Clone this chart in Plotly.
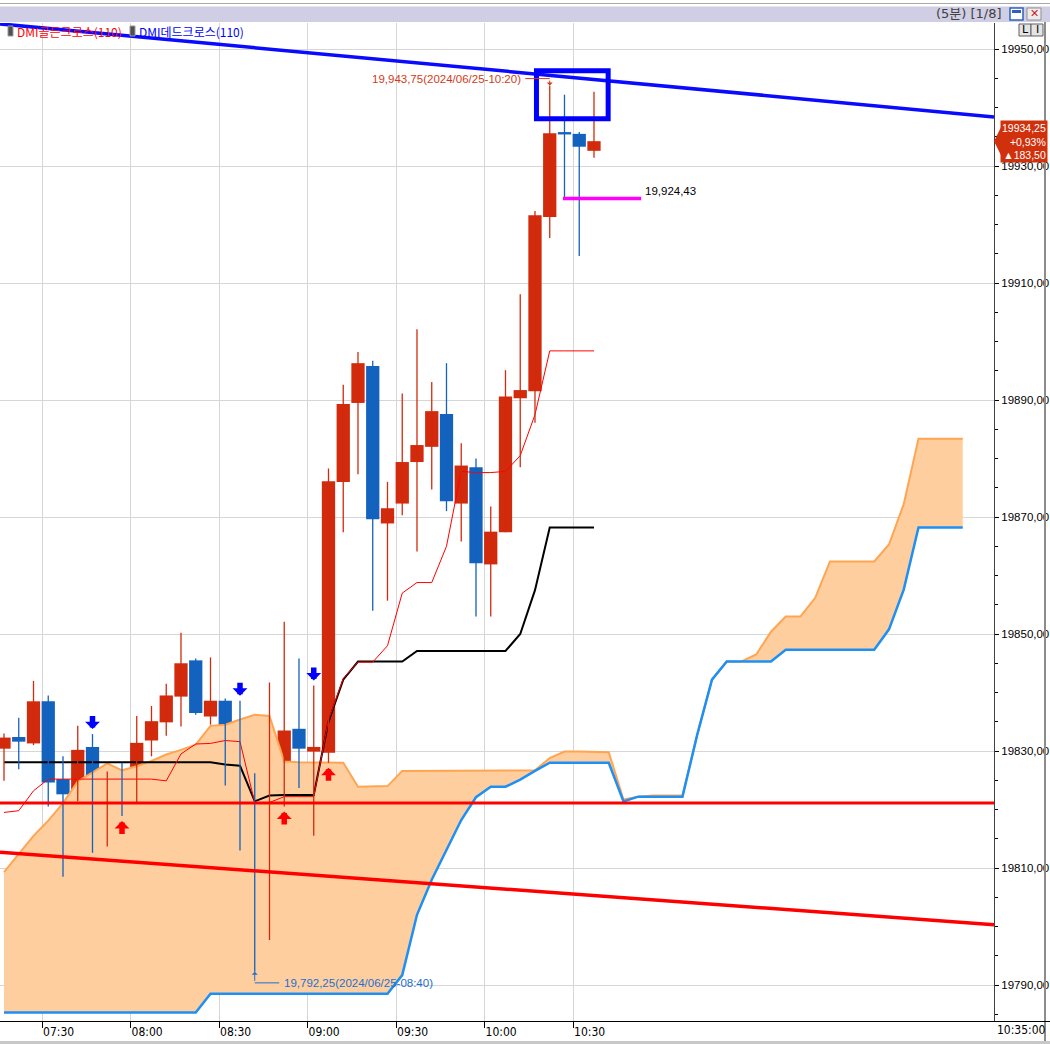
import plotly.graph_objects as go

# ---------------- data ----------------
times = ["07:15", "07:20", "07:25", "07:30", "07:35", "07:40", "07:45", "07:50", "07:55",
         "08:00", "08:05", "08:10", "08:15", "08:20", "08:25", "08:30", "08:35", "08:40",
         "08:45", "08:50", "08:55", "09:00", "09:05", "09:10", "09:15", "09:20", "09:25",
         "09:30", "09:35", "09:40", "09:45", "09:50", "09:55", "10:00", "10:05", "10:10",
         "10:15", "10:20", "10:25", "10:30", "10:35"]
opens = [19830.4, 19832.4, 19831.3, 19838.5, 19825.2, 19821.8, 19830.7, 19814.0, 19821.7, 19821.2,
         19831.8, 19834.9, 19839.3, 19845.5, 19835.9, 19838.6, 19828.6, 19815.5, 19806.9, 19821.2,
         19833.8, 19829.9, 19829.7, 19876.0, 19889.5, 19895.8, 19868.9, 19872.3, 19879.4, 19882.0,
         19887.6, 19872.3, 19878.5, 19861.9, 19867.4, 19890.3, 19891.5, 19921.3, 19935.8, 19935.5,
         19932.6]
highs = [19833.0, 19835.7, 19842.0, 19839.5, 19829.1, 19834.3, 19832.9, 19826.5, 19828.0, 19836.0,
         19837.7, 19841.5, 19850.2, 19845.8, 19846.0, 19839.0, 19838.6, 19826.2, 19841.7, 19852.1,
         19845.8, 19841.2, 19878.3, 19892.6, 19898.2, 19896.7, 19876.0, 19891.1, 19902.1, 19893.1,
         19896.3, 19882.6, 19880.0, 19871.8, 19895.1, 19908.1, 19922.3, 19943.75, 19942.2, 19935.8,
         19942.7]
lows = [19824.9, 19826.9, 19831.0, 19820.5, 19808.5, 19821.4, 19812.6, 19813.7, 19818.9, 19821.0,
        19829.1, 19832.6, 19834.2, 19836.2, 19834.5, 19824.1, 19813.0, 19792.25, 19797.7, 19820.5,
        19823.7, 19815.5, 19828.0, 19867.4, 19877.3, 19854.0, 19855.7, 19870.3, 19864.1, 19874.7,
        19871.0, 19865.8, 19853.0, 19853.0, 19867.4, 19878.5, 19886.1, 19917.7, 19924.7, 19914.6,
        19931.4]
closes = [19832.3, 19831.6, 19838.5, 19824.6, 19822.6, 19830.2, 19813.6, 19821.5, 19821.3, 19831.4,
          19835.1, 19839.5, 19845.0, 19836.5, 19838.6, 19829.8, 19815.5, 19806.7, 19821.7, 19833.5,
          19830.4, 19830.7, 19876.1, 19889.3, 19896.3, 19869.6, 19871.5, 19879.4, 19882.3, 19888.1,
          19872.7, 19878.8, 19862.1, 19867.5, 19890.6, 19891.7, 19921.6, 19935.6, 19935.4, 19933.3,
          19934.25]

# Ichimoku conversion (tenkan) and base (kijun) lines
tenkan = [19819.5, 19819.8, 19823.2, 19825.2, 19825.2, 19825.2, 19825.2, 19825.2, 19825.2, 19825.2,
          19825.2, 19824.9, 19829.5, 19831.2, 19831.3, 19831.8, 19831.6, 19821.2, 19821.2, 19822.2,
          19822.2, 19822.2, 19835.3, 19842.4, 19845.2, 19845.2, 19848.0, 19857.0, 19858.8, 19858.8,
          19865.0, 19877.8, 19877.6, 19877.6, 19877.8, 19880.5, 19887.5, 19898.4, 19898.4, 19898.4,
          19898.4]
kijun = [19828.1, 19828.1, 19828.1, 19828.1, 19828.1, 19828.1, 19828.1, 19828.1, 19828.1, 19828.1,
         19828.1, 19828.1, 19828.1, 19828.1, 19828.1, 19827.7, 19827.5, 19821.4, 19822.4, 19822.5,
         19822.5, 19822.5, 19835.0, 19842.2, 19845.3, 19845.3, 19845.3, 19845.3, 19847.1, 19847.1,
         19847.1, 19847.1, 19847.1, 19847.1, 19847.1, 19850.0, 19857.5, 19868.2, 19868.2, 19868.2,
         19868.2]
# leading spans (already shifted forward, 66 positions)
span_a = [19809.3, 19812.4, 19815.5, 19818.1, 19821.1, 19824.8, 19826.4, 19827.9, 19826.7, 19827.4,
          19828.3, 19829.4, 19830.2, 19831.1, 19834.3, 19834.5, 19835.4, 19836.2, 19836.0, 19828.2,
          19828.1, 19828.1, 19828.1, 19828.0, 19823.9, 19823.9, 19824.0, 19826.6, 19826.6, 19826.6,
          19826.6, 19826.6, 19826.6, 19826.6, 19826.6, 19826.6, 19826.7, 19828.8, 19829.9, 19829.9,
          19829.9, 19829.8, 19821.7, 19822.2, 19822.4, 19822.4, 19822.4, 19832.8, 19842.2, 19845.3,
          19845.3, 19846.5, 19850.4, 19853.0, 19853.0, 19856.2, 19862.4, 19862.4, 19862.4, 19862.4,
          19865.3, 19872.2, 19883.4, 19883.4, 19883.4, 19883.4]
span_b = [19785.3, 19785.3, 19785.3, 19785.3, 19785.3, 19785.3, 19785.3, 19785.3, 19785.3, 19785.3,
          19785.3, 19785.3, 19785.3, 19785.3, 19788.5, 19788.5, 19788.5, 19788.5, 19788.5, 19788.5,
          19788.5, 19788.5, 19788.5, 19788.5, 19788.5, 19788.5, 19788.5, 19791.7, 19802.0, 19808.0,
          19813.1, 19818.2, 19822.1, 19823.9, 19823.9, 19825.1, 19826.6, 19828.0, 19828.0, 19828.0,
          19828.0, 19828.0, 19821.4, 19822.2, 19822.2, 19822.2, 19822.2, 19832.8, 19842.2, 19845.3,
          19845.3, 19845.3, 19845.3, 19847.3, 19847.3, 19847.3, 19847.3, 19847.3, 19847.3, 19847.3,
          19850.8, 19857.6, 19868.2, 19868.2, 19868.2, 19868.2]

# DMI cross signals (candle indices)
golden_cross_idx = [8, 19, 22]
dead_cross_idx = [6, 16, 21]

# user drawings
hline_level = 19821.1
red_trend_prices = [19812.7, 19800.3]
blue_trend_prices = [19954.3, 19938.4]
box_idx = [36.1, 40.96]
box_prices = [19938.1, 19946.3]
mag_level = 19924.43
mag_idx = [37.9, 43.2]
day_change = 183.50

x_tick_labels = ["07:30", "08:00", "08:30", "09:00", "09:30", "10:00", "10:30"]
y_tick_vals = [19790, 19810, 19830, 19850, 19870, 19890, 19910, 19930, 19950]

# ---------------- styling ----------------
RED = "#D22A0C"
BLUE = "#1262BE"
W, H = 1050, 1044
ML, MR, MT, MB = 0, 56, 23, 23
PW, PH = W - ML - MR, H - MT - MB
XR = [-0.271, 67.12]
YR = [19783.85, 19954.45]
NARROW = "Liberation Sans Narrow, DejaVu Sans Condensed, Liberation Sans"


def px(x):
    return (x - ML) / PW


def py(y):
    return (H - MB - y) / PH


def fmt(v):
    return f"{v:,.2f}"[:-3] + "," + f"{v:.2f}"[-2:]


n = len(times)
xs = list(range(n))
xs_span = list(range(len(span_a)))

fig = go.Figure()

# Ichimoku cloud
fig.add_trace(go.Scatter(x=xs_span, y=span_b, mode="lines", line=dict(width=0, color="#1E90FF"),
                         hoverinfo="skip"))
fig.add_trace(go.Scatter(x=xs_span, y=span_a, mode="lines", fill="tonexty", fillcolor="#FFCE9E",
                         line=dict(width=2, color="#FFA552"), hoverinfo="skip"))
fig.add_trace(go.Scatter(x=xs_span, y=span_b, mode="lines", line=dict(width=2.5, color="#1E8FF5"),
                         hoverinfo="skip"))

# Kijun and Tenkan
fig.add_trace(go.Scatter(x=xs, y=kijun, mode="lines", line=dict(width=2, color="#000000"),
                         hoverinfo="skip"))
fig.add_trace(go.Scatter(x=xs, y=tenkan, mode="lines", line=dict(width=1, color="#FF0000"),
                         hoverinfo="skip"))

# candles
for up, col in ((True, RED), (False, BLUE)):
    idx = [i for i in xs if (closes[i] >= opens[i]) == up]
    wx, wy = [], []
    for i in idx:
        wx += [i, i, None]
        wy += [lows[i], highs[i], None]
    fig.add_trace(go.Scatter(x=wx, y=wy, mode="lines", line=dict(width=1.3, color=col),
                             hoverinfo="skip"))
    fig.add_trace(go.Bar(x=idx, y=[max(abs(closes[i] - opens[i]), 0.35) for i in idx],
                         base=[min(opens[i], closes[i]) for i in idx], width=0.9,
                         marker=dict(color=col, line=dict(width=0)), hoverinfo="skip"))

# drawings
fig.add_trace(go.Scatter(x=XR, y=[hline_level, hline_level], mode="lines",
                         line=dict(width=3, color="#FF0000"), hoverinfo="skip"))
fig.add_trace(go.Scatter(x=XR, y=red_trend_prices, mode="lines",
                         line=dict(width=3.5, color="#FF0000"), hoverinfo="skip"))
fig.add_trace(go.Scatter(x=XR, y=blue_trend_prices, mode="lines",
                         line=dict(width=3.5, color="#0A0AFF"), hoverinfo="skip"))
fig.add_trace(go.Scatter(x=mag_idx, y=[mag_level, mag_level], mode="lines",
                         line=dict(width=3.5, color="#FF00FF"), hoverinfo="skip"))

shapes = []
annotations = []

shapes.append(dict(type="rect", xref="x", yref="y", x0=box_idx[0], x1=box_idx[1],
                   y0=box_prices[0], y1=box_prices[1], line=dict(color="#0000FF", width=5),
                   fillcolor="rgba(0,0,0,0)", layer="above"))

TINY = dict(size=1, color="rgba(0,0,0,0)")

# signal arrows
for i in dead_cross_idx:
    annotations.append(dict(x=i, y=highs[i], xref="x", yref="y", text=" ", font=TINY,
                            showarrow=True, ax=0, ay=-15, yshift=5, arrowhead=1, arrowwidth=5.5,
                            arrowsize=0.45, arrowcolor="#0000FF"))
for i in golden_cross_idx:
    annotations.append(dict(x=i, y=lows[i], xref="x", yref="y", text=" ", font=TINY,
                            showarrow=True, ax=0, ay=15, yshift=-5, arrowhead=1, arrowwidth=5.5,
                            arrowsize=0.45, arrowcolor="#FF0000"))

# high / low labels
ih = highs.index(max(highs))
il = lows.index(min(lows))
HRED = "#D23A18"
LBLUE = "#1C6FD0"
annotations += [
    dict(x=ih, y=highs[ih], xref="x", yref="y", showarrow=False, xanchor="right", yanchor="middle",
         xshift=-27, yshift=7, text=f"{fmt(highs[ih])}(2024/06/25-{times[ih]})",
         font=dict(family="Liberation Sans", size=11.5, color=HRED)),
    dict(x=ih, y=highs[ih], xref="x", yref="y", text=" ", font=TINY, showarrow=True, ax=-26,
         ay=0, yshift=7, arrowhead=0, arrowwidth=1, arrowcolor=HRED),
    dict(x=ih, y=highs[ih], xref="x", yref="y", text=" ", font=TINY, showarrow=True, ax=0, ay=-7,
         arrowhead=1, arrowwidth=1, arrowsize=1, arrowcolor=HRED),
    dict(x=il, y=lows[il], xref="x", yref="y", showarrow=False, xanchor="left", yanchor="middle",
         xshift=27, yshift=-11, text=f"{fmt(lows[il])}(2024/06/25-{times[il]})",
         font=dict(family="Liberation Sans", size=11.5, color=LBLUE)),
    dict(x=il, y=lows[il], xref="x", yref="y", text=" ", font=TINY, showarrow=True, ax=26, ay=0,
         yshift=-11, arrowhead=0, arrowwidth=1, arrowcolor=LBLUE),
    dict(x=il, y=lows[il], xref="x", yref="y", text=" ", font=TINY, showarrow=True, ax=0, ay=11,
         arrowhead=1, arrowwidth=1, arrowsize=1, arrowcolor=LBLUE),
    dict(x=mag_idx[1], y=mag_level, xref="x", yref="y", showarrow=False, xanchor="left",
         yanchor="middle", xshift=2, yshift=8, text=fmt(mag_level),
         font=dict(family="Liberation Sans", size=11.5, color="#000000")),
]

# current price box
last = closes[-1]
pct = day_change / (last - day_change) * 100
annotations.append(dict(
    x=1, y=last, xref="paper", yref="y", xanchor="left", yanchor="middle", xshift=6,
    showarrow=False, align="right", bgcolor="#D0300C", borderpad=1,
    text=f"{last:.2f}".replace(".", ",") + "<br>+" + f"{pct:.2f}".replace(".", ",") + "%<br>▲"
         + f"{day_change:.2f}".replace(".", ","),
    font=dict(family="Liberation Sans", size=10.5, color="#FFFFFF")))
shapes.append(dict(type="path", xref="paper", yref="y", xsizemode="pixel", ysizemode="pixel",
                   xanchor=1, yanchor=last, path="M 7,-14 L 0,0 L 7,14 Z",
                   fillcolor="#D0300C", line=dict(width=0)))

# header / frame decorations
shapes += [
    dict(type="line", xref="paper", yref="paper", x0=px(0), x1=px(W), y0=py(3.5), y1=py(3.5),
         line=dict(color="#A8A8A8", width=1)),
    dict(type="rect", xref="paper", yref="paper", x0=px(0), x1=px(W), y0=py(22), y1=py(6.5),
         fillcolor="#D0CEE4", line=dict(width=0)),
    dict(type="rect", xref="paper", yref="paper", x0=px(1010), x1=px(1023), y0=py(20), y1=py(8),
         fillcolor="#FFFFFF", line=dict(color="#2F5FC0", width=1.5)),
    dict(type="rect", xref="paper", yref="paper", x0=px(1012), x1=px(1021), y0=py(13), y1=py(10),
         fillcolor="#2F5FC0", line=dict(width=0)),
    dict(type="rect", xref="paper", yref="paper", x0=px(1027), x1=px(1041), y0=py(20), y1=py(8),
         fillcolor="#ECECEC", line=dict(color="#909090", width=1)),
    dict(type="rect", xref="paper", yref="paper", x0=px(1019), x1=px(1031), y0=py(36), y1=py(24),
         fillcolor="#E4E4E4", line=dict(color="#606060", width=1)),
    dict(type="rect", xref="paper", yref="paper", x0=px(1031), x1=px(1043), y0=py(36), y1=py(24),
         fillcolor="#E4E4E4", line=dict(color="#606060", width=1)),
    dict(type="line", xref="paper", yref="paper", x0=px(1045), x1=px(1045), y0=py(22), y1=py(H),
         line=dict(color="#8C8C8C", width=2)),
    dict(type="line", xref="paper", yref="paper", x0=px(994), x1=px(W), y0=py(1021.5),
         y1=py(1021.5), line=dict(color="#000000", width=1)),
    dict(type="rect", xref="paper", yref="paper", x0=px(0), x1=px(W), y0=py(H), y1=py(1041),
         fillcolor="#C8C8C8", line=dict(width=0)),
    dict(type="rect", xref="paper", yref="paper", x0=px(8), x1=px(13), y0=py(36), y1=py(26),
         fillcolor="#505050", line=dict(color="#9A9A9A", width=1)),
    dict(type="rect", xref="paper", yref="paper", x0=px(130), x1=px(135), y0=py(36), y1=py(26),
         fillcolor="#505050", line=dict(color="#9A9A9A", width=1)),
]
annotations += [
    dict(x=px(1004), y=py(14), xref="paper", yref="paper", xanchor="right", yanchor="middle",
         showarrow=False, text="(5분) [1/8]",
         font=dict(family="DejaVu Sans, Noto Sans CJK KR", size=13, color="#404040")),
    dict(x=px(1034), y=py(14), xref="paper", yref="paper", xanchor="center", yanchor="middle",
         showarrow=False, text="✕", font=dict(family="DejaVu Sans", size=11, color="#D02020")),
    dict(x=px(1025), y=py(30), xref="paper", yref="paper", xanchor="center", yanchor="middle",
         showarrow=False, text="L", font=dict(family="DejaVu Sans", size=11, color="#000000")),
    dict(x=px(1037), y=py(30), xref="paper", yref="paper", xanchor="center", yanchor="middle",
         showarrow=False, text="I", font=dict(family="DejaVu Sans", size=11, color="#000000")),
    dict(x=px(15), y=py(31), xref="paper", yref="paper", xanchor="left", yanchor="middle",
         showarrow=False, text="DMI골든크로스(110)",
         font=dict(family="Noto Sans CJK KR", size=12, color="#FF0000")),
    dict(x=px(137), y=py(31), xref="paper", yref="paper", xanchor="left", yanchor="middle",
         showarrow=False, text="DMI데드크로스(110)",
         font=dict(family="Noto Sans CJK KR", size=12, color="#0000FF")),
    dict(x=px(1048), y=py(1030), xref="paper", yref="paper", xanchor="right", yanchor="middle",
         showarrow=False, text=times[-1] + ":00",
         font=dict(family=NARROW, size=12, color="#000000")),
]

tick_x = [times.index(t) - 0.42 for t in x_tick_labels]
y_tick_text = [f"{v:.2f}".replace(".", ",") for v in y_tick_vals]

fig.update_layout(
    width=W, height=H, margin=dict(l=ML, r=MR, t=MT, b=MB, autoexpand=False),
    paper_bgcolor="#FFFFFF", plot_bgcolor="#FFFFFF", showlegend=False, barmode="overlay",
    shapes=shapes, annotations=annotations,
    xaxis=dict(range=XR, tickvals=tick_x, ticktext=x_tick_labels, showgrid=True, automargin=False,
               gridcolor="#D6D6D6", gridwidth=1, ticks="outside", ticklen=6, tickcolor="#000000",
               showline=True, linecolor="#000000", linewidth=1, zeroline=False,
               ticklabelposition="outside right",
               tickfont=dict(family=NARROW, size=12, color="#000000")),
    yaxis=dict(range=YR, side="right", tickvals=y_tick_vals, ticktext=y_tick_text, showgrid=True,
               automargin=False,
               gridcolor="#D6D6D6", gridwidth=1, ticks="outside", ticklen=4, tickcolor="#000000",
               showline=True, linecolor="#404040", linewidth=1, zeroline=False,
               minor=dict(dtick=5, ticks="outside", ticklen=3, tickcolor="#000000", showgrid=False),
               tickfont=dict(family="Liberation Sans", size=11.5, color="#000000")),
)

fig.write_html("out.html", config={"displayModeBar": False},
               post_script="document.body.style.margin='0';document.body.style.padding='0';")
